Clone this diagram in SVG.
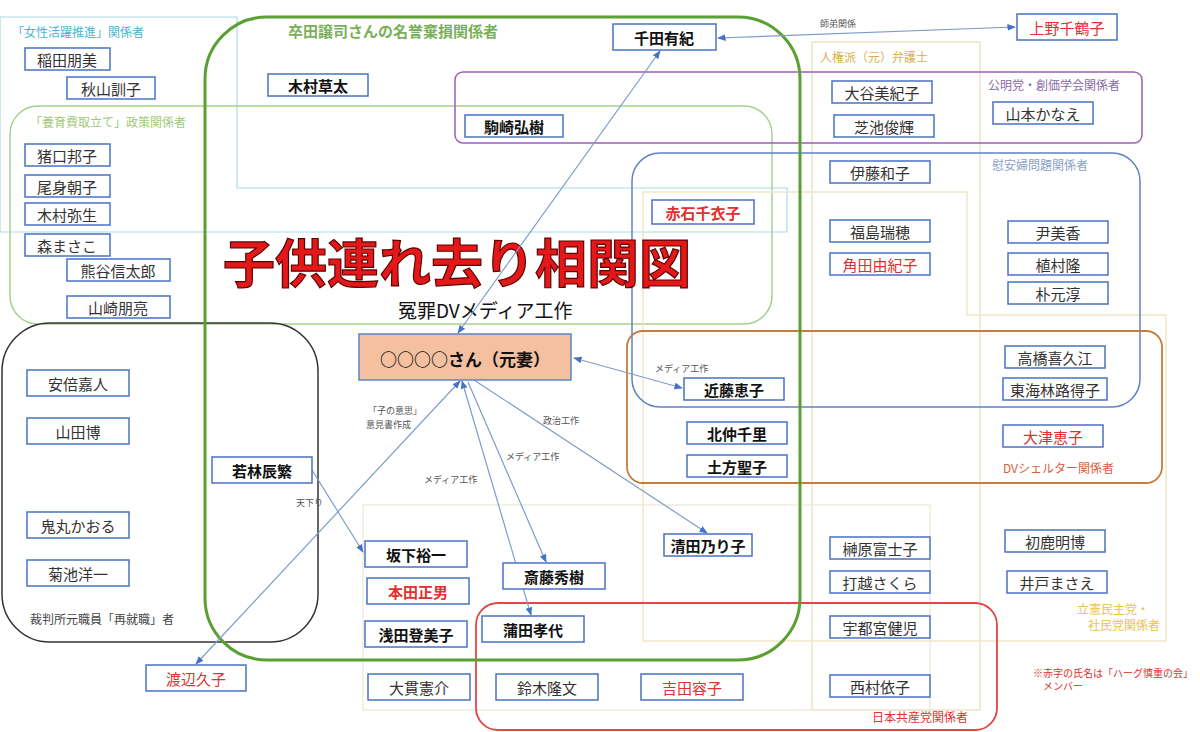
<svg xmlns="http://www.w3.org/2000/svg" width="1200" height="732" viewBox="0 0 1200 732">
<defs>
<marker id="ar" viewBox="0 0 10 10" refX="9" refY="5" markerWidth="7" markerHeight="7" orient="auto-start-reverse"><path d="M0,1 L10,5 L0,9 z" fill="#4472c4"/></marker>
<style>
text{font-family:"Noto Sans CJK JP","Noto Sans CJK SC",sans-serif}
.n rect{fill:#fff;stroke:#4a72c4;stroke-width:1.5}
.n text{font-size:15px;text-anchor:middle;dominant-baseline:central;fill:#333}
.b text{font-weight:bold;fill:#111}
.r text{fill:#e03030}
.g{fill:none}
.lab{font-size:12px}
.el{font-size:9px;fill:#555}
.c line{stroke:#7e9cc8;stroke-width:1.2;marker-end:url(#ar)}
</style>
</defs>
<rect width="1200" height="732" fill="#fff"/>
<g id="groups">
<polygon class="g" points="0,17 237,17 237,188 787,188 787,232 0,232" stroke="#a8dbe6" stroke-width="1.2"/>
<rect class="g" x="10" y="106" width="762" height="218" rx="28" stroke="#a9d18e" stroke-width="1.5"/>
<rect class="g" x="812" y="42" width="168" height="668" stroke="#ece5c6" stroke-width="1.5"/>
<polygon class="g" points="643,192 967,192 967,315 1166,315 1166,641 643,641" stroke="#f1e8c6" stroke-width="1.5"/>
<rect class="g" x="363" y="505" width="567" height="205" stroke="#ece8d4" stroke-width="1.2"/>
<rect class="g" x="455" y="72" width="687" height="71" rx="8" stroke="#9b5fb5" stroke-width="1.5"/>
<rect class="g" x="632" y="153" width="508" height="254" rx="28" stroke="#5b82c4" stroke-width="1.5"/>
<rect class="g" x="627" y="331" width="535" height="152" rx="16" stroke="#c67c3c" stroke-width="1.8"/>
<rect class="g" x="2" y="323" width="316" height="319" rx="48" stroke="#333" stroke-width="1.5"/>
<rect class="g" x="476" y="603" width="521" height="127" rx="22" stroke="#e04848" stroke-width="1.8"/>
<rect class="g" x="205" y="17" width="595" height="643" rx="62" stroke="#5aa032" stroke-width="3"/>
<text x="12" y="37" class="lab" fill="#4ab5d1">「女性活躍推進」関係者</text>
<text x="30" y="127" class="lab" fill="#9fc97a">「養育費取立て」政策関係者</text>
<text x="288" y="37" font-size="15" font-weight="bold" fill="#7ab05a">卒田譲司さんの名誉棄損関係者</text>
<text x="820" y="62" class="lab" fill="#d8b050">人権派（元）弁護士</text>
<text x="988" y="90" class="lab" fill="#8a6aa8">公明党・創価学会関係者</text>
<text x="992" y="170" class="lab" fill="#8aa0c8">慰安婦問題関係者</text>
<text x="1003" y="473" class="lab" fill="#d86040">DVシェルター関係者</text>
<text x="30" y="624" class="lab" fill="#444">裁判所元職員「再就職」者</text>
<text x="872" y="722" class="lab" fill="#e03030">日本共産党関係者</text>
<text x="1077" y="614" class="lab" fill="#e8c44a">立憲民主党・</text>
<text x="1088" y="630" class="lab" fill="#e8c44a">社民党関係者</text>
<text x="1033" y="677" font-size="10" fill="#e03030">※赤字の氏名は「ハーグ慎重の会」</text>
<text x="1043" y="690" font-size="10" fill="#e03030">メンバー</text>
<text x="223" y="283" font-size="52" font-weight="bold" fill="#e41818" stroke="#5a0000" stroke-width="1.2">子供連れ去り相関図</text>
<text x="398" y="318" font-size="19" fill="#111">冤罪DVメディア工作</text>
</g>
<g class="c" id="connectors">
<line x1="718" y1="38" x2="1015" y2="27" marker-start="url(#ar)"/>
<line x1="458" y1="333" x2="660" y2="51" marker-start="url(#ar)"/>
<line x1="460" y1="381" x2="196" y2="664" marker-start="url(#ar)"/>
<line x1="312" y1="470" x2="363" y2="552"/>
<line x1="462" y1="381" x2="531" y2="615" marker-start="url(#ar)"/>
<line x1="468" y1="382" x2="546" y2="562"/>
<line x1="474" y1="380" x2="707" y2="533"/>
<line x1="682" y1="388" x2="574" y2="358" marker-start="url(#ar)"/>
<text x="820" y="27" class="el">師弟関係</text>
<text x="368" y="414" class="el">「子の意思」</text>
<text x="366" y="428" class="el">意見書作成</text>
<text x="296" y="506" class="el">天下り</text>
<text x="424" y="483" class="el">メディア工作</text>
<text x="506" y="460" class="el">メディア工作</text>
<text x="543" y="424" class="el">政治工作</text>
<text x="655" y="372" class="el">メディア工作</text>
</g>
<g id="main"><rect x="359" y="334" width="212" height="46" fill="#f4c0a0" stroke="#5a86c4" stroke-width="1.5"/><text x="465" y="358" font-size="17" font-weight="bold" text-anchor="middle" dominant-baseline="central" fill="#111">○○○○さん（元妻）</text></g>
<g id="n1" class="n"><rect x="25" y="48" width="85" height="22"/><text x="67" y="59">稲田朋美</text></g>
<g id="n2" class="n"><rect x="67" y="77" width="88" height="22"/><text x="111" y="88">秋山訓子</text></g>
<g id="n3" class="n"><rect x="25" y="144" width="85" height="22"/><text x="67" y="155">猪口邦子</text></g>
<g id="n4" class="n"><rect x="25" y="175" width="85" height="22"/><text x="67" y="186">尾身朝子</text></g>
<g id="n5" class="n"><rect x="25" y="203" width="85" height="22"/><text x="67" y="214">木村弥生</text></g>
<g id="n6" class="n"><rect x="25" y="234" width="85" height="22"/><text x="67" y="245">森まさこ</text></g>
<g id="n7" class="n"><rect x="67" y="259" width="103" height="22"/><text x="118" y="270">熊谷信太郎</text></g>
<g id="n8" class="n"><rect x="67" y="296" width="103" height="22"/><text x="118" y="307">山崎朋亮</text></g>
<g id="n9" class="n b"><rect x="268" y="74" width="100" height="22"/><text x="318" y="85">木村草太</text></g>
<g id="n10" class="n b"><rect x="465" y="115" width="98" height="22"/><text x="514" y="126">駒崎弘樹</text></g>
<g id="n11" class="n b"><rect x="613" y="24" width="103" height="26"/><text x="664" y="37">千田有紀</text></g>
<g id="n12" class="n r"><rect x="1017" y="14" width="100" height="26"/><text x="1067" y="27">上野千鶴子</text></g>
<g id="n13" class="n"><rect x="832" y="81" width="100" height="22"/><text x="882" y="92">大谷美紀子</text></g>
<g id="n14" class="n"><rect x="834" y="115" width="100" height="22"/><text x="884" y="126">芝池俊輝</text></g>
<g id="n15" class="n"><rect x="993" y="102" width="100" height="22"/><text x="1043" y="113">山本かなえ</text></g>
<g id="n16" class="n"><rect x="830" y="161" width="100" height="22"/><text x="880" y="172">伊藤和子</text></g>
<g id="n17" class="n b r"><rect x="652" y="200" width="102" height="24"/><text x="703" y="212">赤石千衣子</text></g>
<g id="n18" class="n"><rect x="830" y="220" width="100" height="22"/><text x="880" y="231">福島瑞穂</text></g>
<g id="n19" class="n r"><rect x="830" y="253" width="100" height="22"/><text x="880" y="264">角田由紀子</text></g>
<g id="n20" class="n"><rect x="1008" y="221" width="100" height="22"/><text x="1058" y="232">尹美香</text></g>
<g id="n21" class="n"><rect x="1008" y="253" width="100" height="22"/><text x="1058" y="264">植村隆</text></g>
<g id="n22" class="n"><rect x="1008" y="282" width="100" height="22"/><text x="1058" y="293">朴元淳</text></g>
<g id="n23" class="n"><rect x="27" y="370" width="102" height="26"/><text x="78" y="383">安倍嘉人</text></g>
<g id="n24" class="n"><rect x="27" y="418" width="102" height="26"/><text x="78" y="431">山田博</text></g>
<g id="n25" class="n"><rect x="27" y="512" width="102" height="26"/><text x="78" y="525">鬼丸かおる</text></g>
<g id="n26" class="n"><rect x="27" y="560" width="102" height="26"/><text x="78" y="573">菊池洋一</text></g>
<g id="n27" class="n b"><rect x="212" y="457" width="100" height="26"/><text x="262" y="470">若林辰繁</text></g>
<g id="n28" class="n r"><rect x="146" y="665" width="100" height="26"/><text x="196" y="678">渡辺久子</text></g>
<g id="n29" class="n b"><rect x="365" y="541" width="102" height="26"/><text x="416" y="554">坂下裕一</text></g>
<g id="n30" class="n b r"><rect x="367" y="578" width="102" height="26"/><text x="418" y="591">本田正男</text></g>
<g id="n31" class="n b"><rect x="365" y="621" width="102" height="26"/><text x="416" y="634">浅田登美子</text></g>
<g id="n32" class="n"><rect x="368" y="674" width="102" height="26"/><text x="419" y="687">大貫憲介</text></g>
<g id="n33" class="n b"><rect x="482" y="616" width="102" height="26"/><text x="533" y="629">蒲田孝代</text></g>
<g id="n34" class="n b"><rect x="503" y="563" width="102" height="26"/><text x="554" y="576">斎藤秀樹</text></g>
<g id="n35" class="n"><rect x="496" y="674" width="102" height="26"/><text x="547" y="687">鈴木隆文</text></g>
<g id="n36" class="n r"><rect x="641" y="674" width="102" height="26"/><text x="692" y="687">吉田容子</text></g>
<g id="n37" class="n b"><rect x="684" y="378" width="100" height="22"/><text x="734" y="389">近藤恵子</text></g>
<g id="n38" class="n b"><rect x="687" y="422" width="100" height="22"/><text x="737" y="433">北仲千里</text></g>
<g id="n39" class="n b"><rect x="687" y="455" width="100" height="22"/><text x="737" y="466">土方聖子</text></g>
<g id="n40" class="n"><rect x="1005" y="346" width="100" height="22"/><text x="1055" y="357">高橋喜久江</text></g>
<g id="n41" class="n"><rect x="1003" y="378" width="104" height="22"/><text x="1055" y="389">東海林路得子</text></g>
<g id="n42" class="n r"><rect x="1003" y="425" width="100" height="22"/><text x="1053" y="436">大津恵子</text></g>
<g id="n43" class="n b"><rect x="664" y="534" width="88" height="22"/><text x="708" y="545">清田乃り子</text></g>
<g id="n44" class="n"><rect x="830" y="537" width="100" height="22"/><text x="880" y="548">榊原富士子</text></g>
<g id="n45" class="n"><rect x="830" y="571" width="100" height="22"/><text x="880" y="582">打越さくら</text></g>
<g id="n46" class="n"><rect x="830" y="616" width="100" height="22"/><text x="880" y="627">宇都宮健児</text></g>
<g id="n47" class="n"><rect x="830" y="675" width="100" height="22"/><text x="880" y="686">西村依子</text></g>
<g id="n48" class="n"><rect x="1005" y="530" width="100" height="22"/><text x="1055" y="541">初鹿明博</text></g>
<g id="n49" class="n"><rect x="1007" y="571" width="100" height="22"/><text x="1057" y="582">井戸まさえ</text></g>
</svg>
